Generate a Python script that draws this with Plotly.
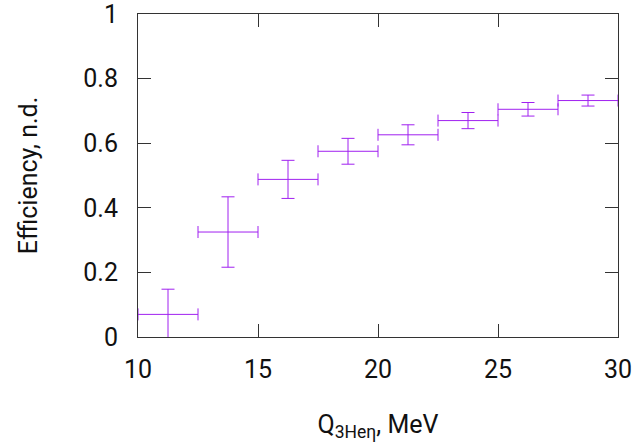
import plotly.graph_objects as go

q_center = [11.25, 13.75, 16.25, 18.75, 21.25, 23.75, 26.25, 28.75]
q_halfwidth = [1.25, 1.25, 1.25, 1.25, 1.25, 1.25, 1.25, 1.25]
efficiency = [0.070, 0.325, 0.488, 0.575, 0.626, 0.670, 0.705, 0.732]
eff_error = [0.078, 0.109, 0.059, 0.040, 0.031, 0.025, 0.021, 0.017]

x_ticks = [10, 15, 20, 25, 30]
y_ticks = [0, 0.2, 0.4, 0.6, 0.8, 1]
y_ticklabels = ["0", "0.2", "0.4", "0.6", "0.8", "1"]

color = "#a020f0"
font = "Roboto"
fsize = 25

fig = go.Figure()
fig.add_trace(go.Scatter(
    x=q_center, y=efficiency, mode="markers",
    marker=dict(size=1, color="rgba(0,0,0,0)"),
    error_x=dict(type="data", array=q_halfwidth, color=color, thickness=1, width=6),
    error_y=dict(type="data", array=eff_error, color=color, thickness=1, width=6.5),
    showlegend=False, hoverinfo="skip",
))

axis_common = dict(
    showline=True, linecolor="#333", linewidth=1, mirror="allticks",
    ticks="inside", ticklen=13, tickcolor="#333", tickwidth=1,
    showgrid=False, zeroline=False, automargin=False,
    ticklabeloverflow="allow",
    tickfont=dict(family=font, size=fsize, color="#111"),
)

fig.update_layout(
    width=638, height=448,
    margin=dict(l=138, r=20, t=14, b=111),
    plot_bgcolor="white", paper_bgcolor="white",
    font=dict(family=font, size=fsize, color="#111"),
    xaxis=dict(range=[10, 30], tickvals=x_ticks, ticklabelstandoff=10,
               title=dict(text="Q<sub>3Heη</sub>, MeV", font=dict(family=font, size=fsize), standoff=32),
               **axis_common),
    yaxis=dict(range=[0, 1], tickvals=y_ticks, ticktext=y_ticklabels, ticklabelstandoff=14,
               title=dict(text="Efficiency, n.d.", font=dict(family=font, size=fsize), standoff=38),
               **axis_common),
)

fig.write_html("out.html", config={"displayModeBar": False},
               post_script="document.body.style.margin='0';")
